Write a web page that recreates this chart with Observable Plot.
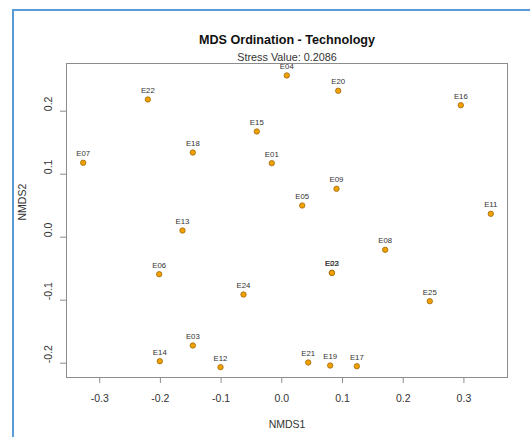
<!DOCTYPE html>
<html>
<head>
<meta charset="utf-8">
<script src="https://cdn.jsdelivr.net/npm/d3@7"></script>
<script src="https://cdn.jsdelivr.net/npm/@observablehq/plot@0.6"></script>
<style>
  html, body { margin: 0; padding: 0; background: #fff; }
  #wrap { position: relative; width: 530px; height: 437px; overflow: hidden; }
  #border { position: absolute; left: 12px; top: 9px; width: 600px; height: 500px;
            border-left: 2px solid #5b9bd5; border-top: 2px solid #5b9bd5; box-sizing: border-box; }
  svg { position: absolute; left: 0; top: 0; }
</style>
</head>
<body>
<div id="wrap"><div id="border"></div></div>
<script>
const title = "MDS Ordination - Technology";
const subtitle = "Stress Value: 0.2086";
const xLabel = "NMDS1";
const yLabel = "NMDS2";

const sites = ["E01","E02","E03","E04","E05","E06","E07","E08","E09","E11","E12","E13",
               "E14","E15","E16","E17","E18","E19","E20","E21","E22","E23","E24","E25"];
const nmds1 = [-0.0165, 0.0824, -0.1466, 0.0082, 0.0336, -0.2020, -0.3272, 0.1703, 0.0901, 0.3443, -0.1010, -0.1636,
               -0.2010, -0.0412, 0.2949, 0.1236, -0.1466, 0.0797, 0.0929, 0.0435, -0.2207, 0.0826, -0.0631, 0.2438];
const nmds2 = [0.1175, -0.0565, -0.1719, 0.2567, 0.0503, -0.0587, 0.1181, -0.0200, 0.0768, 0.0371, -0.2063, 0.0106,
               -0.1968, 0.1678, 0.2095, -0.2048, 0.1344, -0.2037, 0.2324, -0.1989, 0.2186, -0.0567, -0.0910, -0.1016];

const xTicks = [-0.3, -0.2, -0.1, 0.0, 0.1, 0.2, 0.3];
const xTickLabels = ["-0.3", "-0.2", "-0.1", "0.0", "0.1", "0.2", "0.3"];
const yTicks = [-0.2, -0.1, 0.0, 0.1, 0.2];
const yTickLabels = ["-0.2", "-0.1", "0.0", "0.1", "0.2"];

const data = sites.map((s, i) => ({site: s, x: nmds1[i], y: nmds2[i]}));
const xt = xTicks.map((v, i) => ({v, label: xTickLabels[i]}));
const yt = yTicks.map((v, i) => ({v, label: yTickLabels[i]}));

const font = "Liberation Sans, Arial, sans-serif";

const chart = Plot.plot({
  width: 530,
  height: 437,
  marginLeft: 66,
  marginRight: 23,
  marginTop: 63,
  marginBottom: 60,
  style: {fontFamily: font, background: "transparent", overflow: "visible"},
  x: {domain: [-0.3547, 0.3718], axis: null},
  y: {domain: [-0.2227, 0.2757], axis: null},
  marks: [
    Plot.frame({stroke: "#8c8c8c", strokeWidth: 1}),
    Plot.axisX({ticks: xTicks, tickSize: 6, tickFormat: () => "", stroke: "#8c8c8c", strokeWidth: 1}),
    Plot.axisY({ticks: yTicks, tickSize: 6, tickFormat: () => "", stroke: "#8c8c8c", strokeWidth: 1}),
    Plot.text(xt, {x: "v", text: "label", frameAnchor: "bottom", lineAnchor: "middle", dy: 21, fontSize: 10.5, fill: "#333"}),
    Plot.text(yt, {y: "v", text: "label", frameAnchor: "left", dx: -18, rotate: -90, fontSize: 10.5, fill: "#333"}),
    Plot.text([xLabel], {frameAnchor: "bottom", lineAnchor: "middle", dy: 47, fontSize: 10.5, fill: "#333"}),
    Plot.text([yLabel], {frameAnchor: "left", dx: -44, rotate: -90, fontSize: 10.5, fill: "#333"}),
    Plot.text([title], {frameAnchor: "top", lineAnchor: "middle", dy: -24, fontSize: 12.6, fontWeight: "bold", fill: "#111"}),
    Plot.text([subtitle], {frameAnchor: "top", lineAnchor: "middle", dy: -5.5, fontSize: 10.8, fill: "#333"}),
    Plot.dot(data, {x: "x", y: "y", r: 2.7, fill: "#f2a000", stroke: "#9a6a10", strokeWidth: 0.8}),
    Plot.text(data, {x: "x", y: "y", text: "site", dy: -9, fontSize: 7.8, fill: "#333"})
  ]
});
document.getElementById("wrap").appendChild(chart);
</script>
</body>
</html>
